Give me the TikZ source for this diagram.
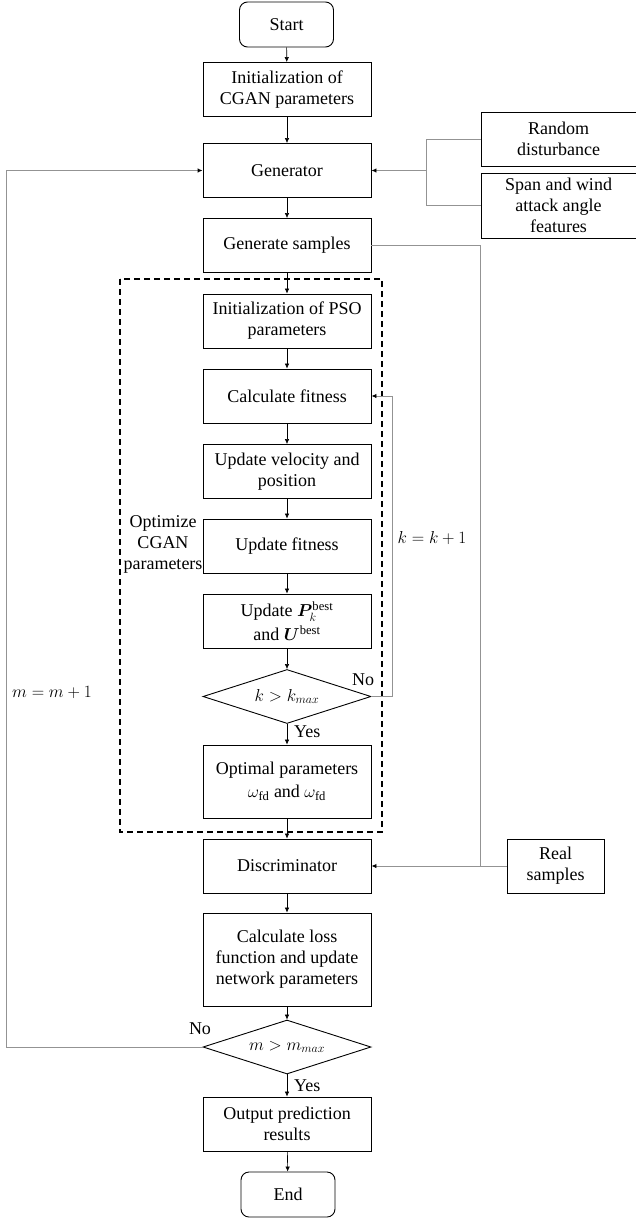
\documentclass[tikz,border=0pt]{standalone}
\usepackage{amsmath,bm}
\usepackage{fontspec}
\setmainfont{Liberation Serif}
\usetikzlibrary{shapes.geometric,arrows.meta}
\begin{document}
\begin{tikzpicture}[x=1pt,y=-1pt,
  every node/.style={font=\fontsize{18}{21}\selectfont},
  box/.style={draw,line width=0.9pt,minimum width=168pt,minimum height=54pt,align=center,inner sep=2pt},
  term/.style={draw,line width=0.9pt,rounded corners=8pt,minimum width=94pt,minimum height=45pt},
  dec/.style={draw,line width=0.9pt,diamond,aspect=3.15,minimum width=168pt,minimum height=54pt,inner sep=0pt},
  arr/.style={line width=0.6pt,-{Latex[length=5pt,width=4.5pt]}},
  garr/.style={line width=0.9pt,draw=gray!85,-{Latex[length=5pt,width=4.5pt,fill=black,color=black]}},
  gline/.style={line width=0.9pt,draw=gray!85},
  lbl/.style={inner sep=0pt}]
\useasboundingbox (0,0) rectangle (636,1218);
\draw[dash pattern=on 6pt off 4pt,line width=1.2pt] (120,279) rectangle (382,832);
\node[term] (start) at (286.5,24.5) {Start};
\node[box] (init) at (287,89.5) {Initialization of\\CGAN parameters};
\node[box] (gen) at (287,170.5) {Generator};
\node[box] (gs) at (287,245.5) {Generate samples};
\node[box] (pso) at (287,321) {Initialization of PSO\\parameters};
\node[box] (calc) at (287,396) {Calculate fitness};
\node[box] (vel) at (287,471.5) {Update velocity and\\position};
\node[box] (fit) at (287,546) {Update fitness};
\node[box] (upd) at (287,621) {Update $\bm{P}_k^{\mathrm{best}}$\\[3pt]and $\bm{U}^{\mathrm{best}}$};
\node[dec] (dk) at (287,696.5) {$k>k_{max}$};
\node[box,minimum height=73pt] (opt) at (287,781.5) {Optimal parameters\\[2pt]$\omega_{\mathrm{fd}}$ and $\omega_{\mathrm{fd}}$};
\node[box] (disc) at (287,866) {Discriminator};
\node[box,minimum height=93pt] (loss) at (287,959.5) {Calculate loss\\function and update\\network parameters};
\node[dec] (dm) at (287,1047) {$m>m_{max}$};
\node[box] (out) at (287,1124) {Output prediction\\results};
\node[term] (end) at (288,1194.5) {End};
\node[box,minimum width=155pt] (rand) at (558.5,139) {Random\\disturbance};
\node[box,minimum width=155pt,minimum height=65pt] (span) at (558.5,205.5) {Span and wind\\attack angle\\features};
\node[box,minimum width=97pt] (real) at (555.5,866) {Real\\samples};
\node[align=center] (opttxt) at (163,544) {Optimize\\CGAN\\parameters};
\node (kk) at (432,538) {$k=k+1$};
\node (mm) at (52,692) {$m=m+1$};
\node[lbl] (no1) at (363,680) {No};
\node[lbl,anchor=west] (yes1) at (294,732) {Yes};
\node[lbl] (no2) at (200,1029) {No};
\node[lbl,anchor=west] (yes2) at (294,1086) {Yes};
\coordinate (kc1) at (392,696.5);
\coordinate (kc2) at (392,396);
\coordinate (mc1) at (6,1047);
\coordinate (mc2) at (6,170.5);
\coordinate (b1) at (426,139);
\coordinate (b2) at (426,205.5);
\coordinate (b3) at (426,170.5);
\coordinate (g1) at (480,245.5);
\coordinate (g2) at (480,866);
\draw[arr] (start) -- (init);
\draw[arr] (init) -- (gen);
\draw[arr] (gen) -- (gs);
\draw[arr] (gs) -- (pso);
\draw[arr] (pso) -- (calc);
\draw[arr] (calc) -- (vel);
\draw[arr] (vel) -- (fit);
\draw[arr] (fit) -- (upd);
\draw[arr] (upd) -- (dk);
\draw[arr] (dk) -- (opt);
\draw[arr] (opt) -- (disc);
\draw[arr] (disc) -- (loss);
\draw[arr] (loss) -- (dm);
\draw[arr] (dm) -- (out);
\draw[arr] (out) -- (end);
\draw[garr] (dk.east) -- (kc1) -- (kc2) -- (calc.east);
\draw[garr] (dm.west) -- (mc1) -- (mc2) -- (gen.west);
\draw[gline] (rand.west) -- (b1) -- (b2) -- (span.west);
\draw[garr] (b3) -- (gen.east);
\draw[gline] (gs.east) -- (g1) -- (g2);
\draw[garr] (real.west) -- (disc.east);
\end{tikzpicture}
\end{document}
